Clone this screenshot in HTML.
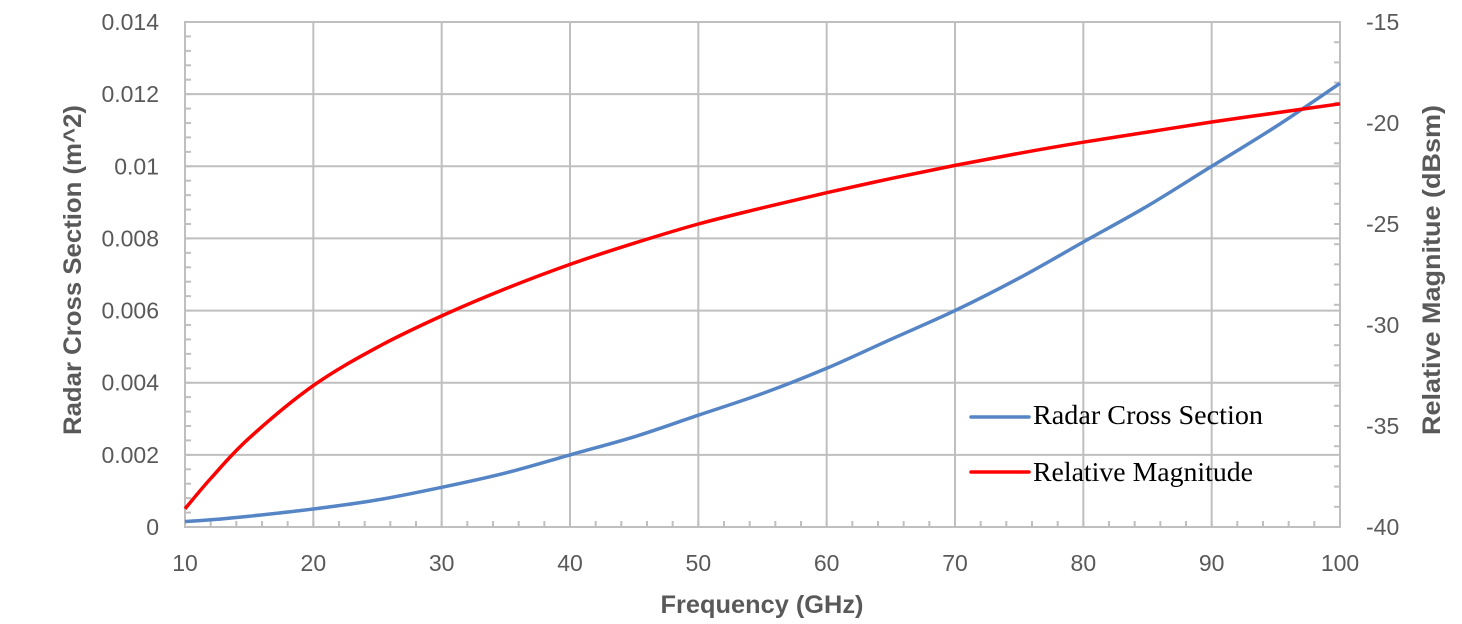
<!DOCTYPE html>
<html><head><meta charset="utf-8"><style>
body{margin:0;background:#fff;}
svg text{font-family:"Liberation Sans",sans-serif;fill:#595959;}
</style></head><body>
<svg id="chart" width="1462" height="619" xmlns="http://www.w3.org/2000/svg">
<g id="grid"></g>
<g id="ticks"></g>
<g id="series"></g>
<text x="762" y="613" text-anchor="middle" font-size="25" font-weight="bold" textLength="203" lengthAdjust="spacingAndGlyphs">Frequency (GHz)</text>
<text transform="translate(81,270) rotate(-90)" text-anchor="middle" font-size="25" font-weight="bold" textLength="330" lengthAdjust="spacingAndGlyphs">Radar Cross Section (m^2)</text>
<text transform="translate(1440,270) rotate(-90)" text-anchor="middle" font-size="25" font-weight="bold" textLength="330" lengthAdjust="spacingAndGlyphs">Relative Magnitue (dBsm)</text>
<g>
<line x1="971" y1="417" x2="1029" y2="417" stroke="#5585c5" stroke-width="3.5" stroke-linecap="round"/>
<text x="1033" y="424" font-size="27" textLength="230" lengthAdjust="spacingAndGlyphs" style="font-family:'Liberation Serif',serif;fill:#000">Radar Cross Section</text>
<line x1="971" y1="472" x2="1029" y2="472" stroke="#ff0000" stroke-width="3.5" stroke-linecap="round"/>
<text x="1033" y="481" font-size="27" textLength="220" lengthAdjust="spacingAndGlyphs" style="font-family:'Liberation Serif',serif;fill:#000">Relative Magnitude</text>
</g>
</svg>
<script>
const freqs=[10,12,15,20,25,30,35,40,45,50,55,60,65,70,75,80,85,90,95,100];
const rcs=[0.00015,0.0002,0.0003,0.0005,0.00075,0.0011,0.0015,0.002,0.0025,0.0031,0.0037,0.0044,0.0052,0.006,0.0069,0.0079,0.0089,0.01,0.0111,0.0123];
const mag=[-39.1,-37.6,-35.6,-33.0,-31.1,-29.55,-28.2,-27.0,-25.95,-25.0,-24.2,-23.45,-22.75,-22.1,-21.5,-20.95,-20.45,-19.95,-19.5,-19.05];
const xTicks=[10,20,30,40,50,60,70,80,90,100];
const yLeftTicks=["0","0.002","0.004","0.006","0.008","0.01","0.012","0.014"];
const yRightTicks=["-40","-35","-30","-25","-20","-15"];
const L=185,R=1340,T=22,B=527;
const xs=v=>L+(v-10)/90*(R-L);
const yl=v=>B-v/0.014*(B-T);
const yr=v=>B-(v+40)/25*(B-T);
const NS="http://www.w3.org/2000/svg";
function mk(p,tag,a){const e=document.createElementNS(NS,tag);for(const k in a)e.setAttribute(k,a[k]);p.appendChild(e);return e;}
const grid=document.getElementById('grid'),ticks=document.getElementById('ticks'),ser=document.getElementById('series');
xTicks.forEach(v=>{
 const l=mk(grid,'line',{x1:xs(v),x2:xs(v),y1:T,y2:B,stroke:'#bfbfbf','stroke-width':2});
 
 
 const t=mk(ticks,'text',{x:xs(v),y:571,'text-anchor':'middle','font-size':23});
 t.textContent=v;
 
 
});
for(let v=10;v<=100;v+=2){mk(ticks,'line',{x1:xs(v),x2:xs(v),y1:B,y2:B-6,stroke:'#bfbfbf','stroke-width':2});}
yLeftTicks.forEach(s=>{
 const v=parseFloat(s);
 const t=mk(ticks,'text',{x:159,y:yl(v)+8,'text-anchor':'end','font-size':23});
 t.textContent=s;
 
 
 const l=mk(grid,'line',{x1:L,x2:R,y1:yl(v),y2:yl(v),stroke:'#bfbfbf','stroke-width':2});
 
 
});
for(let v=0;v<=0.014;v+=0.0004){mk(ticks,'line',{x1:L,x2:L+6,y1:yl(v),y2:yl(v),stroke:'#bfbfbf','stroke-width':2});}
yRightTicks.forEach(s=>{
 const v=parseFloat(s);
 const t=mk(ticks,'text',{x:1366,y:yr(v)+8,'font-size':23});
 t.textContent=s;
 
 
});
for(let v=-40;v<=-15;v+=1){mk(ticks,'line',{x1:R,x2:R-6,y1:yr(v),y2:yr(v),stroke:'#bfbfbf','stroke-width':2});}
mk(grid,'rect',{x:L,y:T,width:R-L,height:B-T,fill:'none',stroke:'#bfbfbf','stroke-width':2});
function path(vals,ys){
 const P=vals.map((v,i)=>[xs(freqs[i]),ys(v)]);
 let d='M'+P[0][0].toFixed(1)+','+P[0][1].toFixed(1);
 for(let i=0;i<P.length-1;i++){
  const p0=P[Math.max(0,i-1)],p1=P[i],p2=P[i+1],p3=P[Math.min(P.length-1,i+2)];
  const c1=[p1[0]+(p2[0]-p0[0])/6,p1[1]+(p2[1]-p0[1])/6];
  const c2=[p2[0]-(p3[0]-p1[0])/6,p2[1]-(p3[1]-p1[1])/6];
  d+=' C'+c1.map(n=>n.toFixed(1)).join(',')+' '+c2.map(n=>n.toFixed(1)).join(',')+' '+p2.map(n=>n.toFixed(1)).join(',');
 }
 return d;
}
const p1=mk(ser,'path',{d:path(rcs,yl),fill:'none',stroke:'#5585c5','stroke-width':3.5});


const p2=mk(ser,'path',{d:path(mag,yr),fill:'none',stroke:'#ff0000','stroke-width':3.5});


</script>
</body></html>
